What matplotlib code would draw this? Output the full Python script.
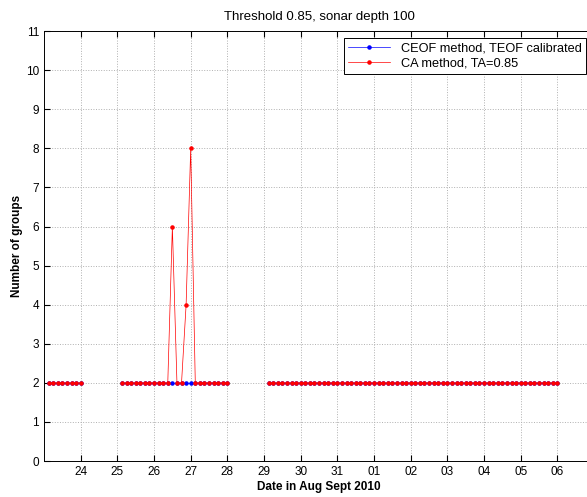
import pandas as pd
import matplotlib
matplotlib.use('Agg')
import matplotlib.pyplot as plt
import numpy as np

plt.rcParams['font.family'] = ['Liberation Sans', 'DejaVu Sans']

# 3-hourly sampling, three recording segments
seg_starts = ['2010-08-23 03:00', '2010-08-25 03:00', '2010-08-29 03:00']

# CEOF method (blue)
ceof_1 = [2, 2, 2, 2, 2, 2, 2, 2]
ceof_2 = [2, 2, 2, 2, 2, 2, 2, 2, 2, 2, 2, 2, 2, 2, 2, 2, 2, 2, 2, 2, 2, 2, 2, 2]
ceof_3 = [2] * 64

# CA method (red)
ca_1 = [2, 2, 2, 2, 2, 2, 2, 2]
ca_2 = [2, 2, 2, 2, 2, 2, 2, 2, 2, 2, 2, 6, 2, 2, 4, 8, 2, 2, 2, 2, 2, 2, 2, 2]
ca_3 = [2] * 64

tick_dates = ['2010-08-24', '2010-08-25', '2010-08-26', '2010-08-27', '2010-08-28',
              '2010-08-29', '2010-08-30', '2010-08-31', '2010-09-01', '2010-09-02',
              '2010-09-03', '2010-09-04', '2010-09-05', '2010-09-06']
tick_labels = ['24', '25', '26', '27', '28', '29', '30', '31',
               '01', '02', '03', '04', '05', '06']


def join_segments(segs):
    # glue segments with NaN so the line breaks in the gaps
    times, vals = [], []
    for start, v in zip(seg_starts, segs):
        t = pd.date_range(start, periods=len(v), freq='3h')
        times.extend(list(t) + [t[-1] + pd.Timedelta(hours=3)])
        vals.extend(list(v) + [np.nan])
    return pd.to_datetime(times), np.array(vals, dtype=float)


t_ceof, v_ceof = join_segments([ceof_1, ceof_2, ceof_3])
t_ca, v_ca = join_segments([ca_1, ca_2, ca_3])

fig = plt.figure(figsize=(5.87, 4.97), dpi=100)
ax = fig.add_axes([0.075, 0.0724, 0.937, 0.865])

ax.plot(t_ceof, v_ceof, '.-', color='blue', lw=0.5, ms=4.5,
        label='CEOF method, TEOF calibrated')
ax.plot(t_ca, v_ca, '.-', color='red', lw=0.5, ms=4.5,
        label='CA method, TA=0.85')

ax.set_xlim(pd.Timestamp('2010-08-23'), pd.Timestamp('2010-09-07'))
ax.set_ylim(0, 11)
ax.set_yticks(range(0, 12))
ax.set_xticks(pd.to_datetime(tick_dates))
ax.set_xticklabels(tick_labels)

ax.tick_params(direction='in', top=True, right=True, labelsize=8.5, length=4)
ax.grid(True, linestyle=':', color='#b0b0b0', lw=0.7)
for s in ax.spines.values():
    s.set_linewidth(0.7)

ax.set_title('Threshold 0.85, sonar depth 100', fontsize=9.5, pad=8)
ax.set_xlabel('Date in Aug Sept 2010', fontsize=8.5, fontweight='bold', labelpad=2)
ax.set_ylabel('Number of groups', fontsize=8.5, fontweight='bold', labelpad=2)

leg = ax.legend(loc='upper right', bbox_to_anchor=(0.997, 0.999), fontsize=9.2,
                fancybox=False, edgecolor='black', framealpha=1,
                handlelength=3.3, borderpad=0.35, labelspacing=0.25)
leg.get_frame().set_linewidth(0.7)

plt.savefig('out.png', dpi=100)
